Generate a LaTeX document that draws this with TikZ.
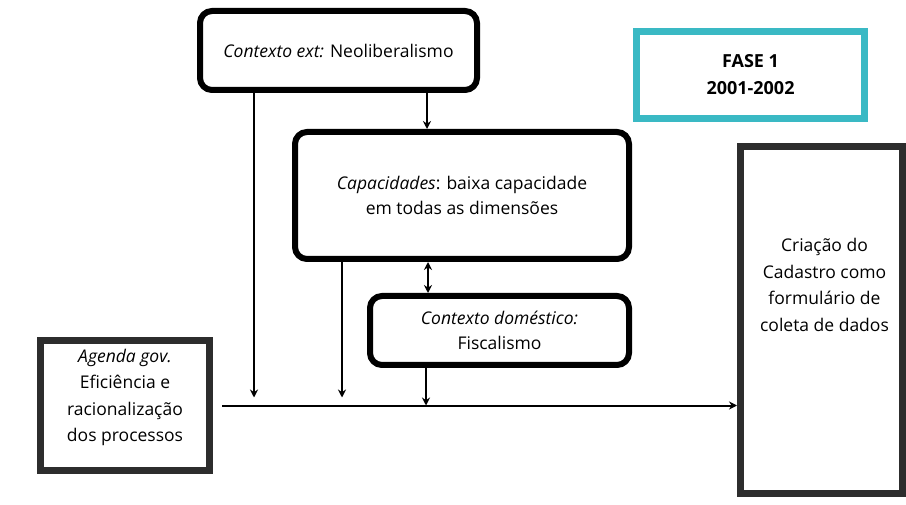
\documentclass[tikz,border=0pt]{standalone}
\usepackage{fontspec}
\setmainfont{Open Sans}
\usetikzlibrary{arrows.meta, positioning}
\definecolor{fasecyan}{RGB}{58,185,196}
\definecolor{framegray}{RGB}{45,45,45}

\begin{document}
\begin{tikzpicture}[
        x=1pt, y=-1pt,
        >={Stealth[length=8pt,width=8pt]},
        box/.style={rectangle, draw=black, line width=6pt, rounded corners=12pt, fill=white, align=center, font=\fontsize{17.5}{25.5}\selectfont},
        plainbox/.style={rectangle, draw=framegray, line width=7pt, fill=white, align=center, font=\fontsize{17.5}{26.5}\selectfont},
        fasebox/.style={rectangle, draw=fasecyan, line width=7pt, fill=white, align=center, font=\fontsize{18}{27}\selectfont\bfseries},
        link/.style={line width=2pt, ->}
    ]
        \useasboundingbox[fill=white] (0,0) rectangle (906,505);
        \node[box, minimum width=277pt, minimum height=79pt] (ext) at (338.5,50.5) {\textit{Contexto ext:} Neoliberalismo};
        \node[box, minimum width=334pt, minimum height=127pt] (caps) at (462,195.5) {\textit{Capacidades}: baixa capacidade\\em todas as dimensões};
        \node[box, below left=31pt and 0pt of caps.south east, minimum width=259pt, minimum height=69pt] (dom) {\textit{Contexto doméstico:}\\Fiscalismo};
        \node[plainbox, minimum width=169pt, minimum height=130pt,
            label={[plainbox, draw=none, fill=none, yshift=8pt]center:\textit{Agenda gov.}\\Eficiência e\\racionalização\\dos processos}] (agenda) at (125,405.5) {};
        \node[plainbox, minimum width=162pt, minimum height=347pt,
            label={[plainbox, draw=none, fill=none, yshift=35pt, xshift=3pt]center:Criação do\\Cadastro como\\formulário de\\coleta de dados}] (criacao) at (821.5,320) {};
        \node[fasebox, minimum width=228pt, minimum height=87pt] (fase) at (750.5,75) {FASE 1\\2001-2002};

        \coordinate (flowstart) at ([xshift=9pt]agenda.east);
        \draw[link] (flowstart) -- (flowstart -| criacao.west);
        \draw[link, shorten >=8pt] (ext.south -| 254,0) -- (254,0 |- flowstart);
        \draw[link] (ext.south -| 427,0) -- (427,0 |- caps.north);
        \draw[link, shorten >=8pt] (caps.south -| 342,0) -- (342,0 |- flowstart);
        \draw[link, <->] (caps.south -| 428,0) -- (428,0 |- dom.north);
        \draw[link] (dom.south -| 426,0) -- (426,0 |- flowstart);
    \end{tikzpicture}
\end{document}
